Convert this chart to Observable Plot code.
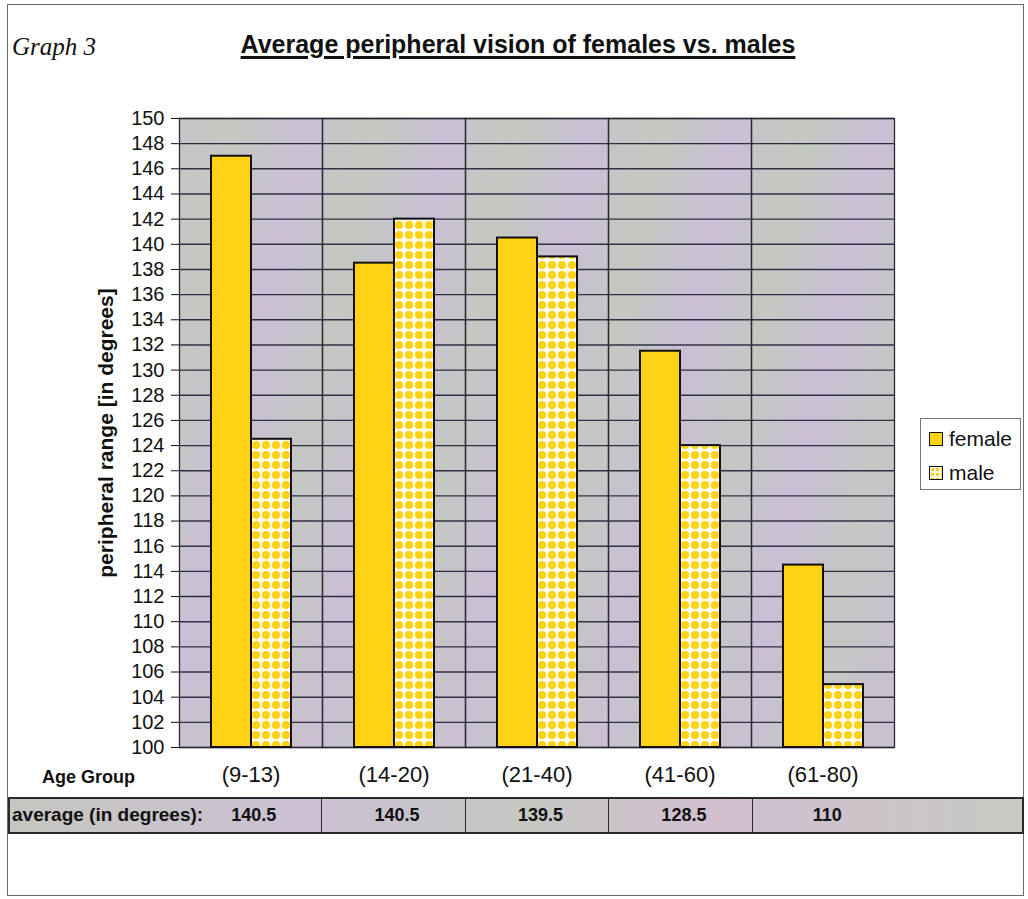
<!DOCTYPE html>
<html><head><meta charset="utf-8">
<script src="https://cdn.jsdelivr.net/npm/d3@7"></script>
<script src="https://cdn.jsdelivr.net/npm/@observablehq/plot@0.6"></script>
<style>
body{margin:0;background:#fff;font-family:"Liberation Sans",Arial,sans-serif;}
#wrap{position:relative;width:1028px;height:899px;overflow:hidden;}
#chart{position:absolute;left:0;top:0;}
#border{position:absolute;left:7px;top:4px;width:1015px;height:890px;border:1.5px solid #6a6a6a;}
#graph{position:absolute;left:12px;top:33px;font-family:"Liberation Serif","Times New Roman",serif;font-style:italic;font-size:25px;line-height:28px;color:#111;}
#title{position:absolute;left:0;width:1036px;text-align:center;top:30px;font-weight:bold;font-size:25px;line-height:28px;color:#111;text-decoration:underline;text-decoration-thickness:3px;text-underline-offset:3px;}
#legend{position:absolute;left:920px;top:418px;width:101px;height:72px;border:1px solid #777;background:#fff;box-sizing:border-box;}
.li{position:absolute;left:8px;font-size:21px;line-height:24px;color:#111;display:flex;align-items:center;}
.sw{width:12px;height:12px;border:1.5px solid #111;margin-right:6px;}
#table{position:absolute;left:8px;top:797px;width:1016px;height:37px;box-sizing:border-box;border:2px solid #2a2a2a;
 background:linear-gradient(90deg,#c6c6c0 0%,#cbc0d4 30%,#c4c8c2 50%,#d2bfd0 70%,#c7c9c3 100%);}
.sep{position:absolute;top:0;bottom:0;border-left:1.5px solid #2a2a2a;}
.tv{position:absolute;top:6px;font-weight:bold;font-size:18px;line-height:20px;color:#111;transform:translateX(-50%);}
#tlabel{position:absolute;left:2px;top:6px;font-weight:bold;font-size:19px;line-height:20px;color:#111;}
</style></head><body>
<div id="wrap">
 <div id="chart"></div>
 <div id="border"></div>
 <div id="graph">Graph 3</div>
 <div id="title">Average peripheral vision of females vs. males</div>
 <div id="legend"></div>
 <div id="table"></div>
</div>
<script>
const ageGroups = ["(9-13)", "(14-20)", "(21-40)", "(41-60)", "(61-80)"];
const series = ["female", "male"];
const femaleValues = [147, 138.5, 140.5, 131.5, 114.5];
const maleValues = [124.5, 142, 139, 124, 105];
const averageValues = ["140.5", "140.5", "139.5", "128.5", "110"];
const yTicks = d3.range(100, 151, 2);
const yLabel = "peripheral range [in degrees]";
const xLabel = "Age Group";
const tableLabel = "average (in degrees):";

const femaleColor = "#FFD313";

const data = [];
ageGroups.forEach((a, i) => {
  data.push({age: a, sex: "female", value: femaleValues[i]});
  data.push({age: a, sex: "male", value: maleValues[i]});
});

const W = 1028, H = 899, mL = 178, mR = 133, mT = 118, mB = 152;

const svg = Plot.plot({
  width: W, height: H,
  marginTop: mT, marginBottom: mB, marginLeft: mL, marginRight: mR,
  style: {fontFamily: '"Liberation Sans", Arial, sans-serif', background: "transparent", color: "#111"},
  fx: {domain: ageGroups, padding: 0, label: null},
  x: {domain: series, paddingInner: 0, paddingOuter: 0.75, axis: null},
  y: {domain: [100, 150], label: null},
  marks: [
    Plot.frame({fill: "url(#bgGrad)", stroke: "none"}),
    Plot.gridY(yTicks, {stroke: "#1f1f35", strokeOpacity: 0.9, strokeWidth: 1.4}),
    Plot.frame({stroke: "#2a2a35", strokeWidth: 1.3}),
    Plot.barY(data.filter(d => d.sex === "female"), {fx: "age", x: "sex", y1: 100, y2: "value", fill: femaleColor, stroke: "#111", strokeWidth: 2}),
    Plot.barY(data.filter(d => d.sex === "male"), {fx: "age", x: "sex", y1: 100, y2: "value", fill: "url(#dots)", stroke: "#111", strokeWidth: 2}),
    Plot.axisY(yTicks, {tickSize: 8, tickPadding: 7, fontSize: 20, label: null}),
    Plot.axisFx({anchor: "bottom", tickSize: 0, tickPadding: 19, fontSize: 22, label: null}),
    Plot.text([yLabel], {frameAnchor: "left", textAnchor: "middle", rotate: -90, dx: -73, fontSize: 21, fontWeight: "bold", facetAnchor: "left"}),
    Plot.text([xLabel], {frameAnchor: "bottom-left", textAnchor: "middle", dx: -91, dy: 35, fontSize: 18, fontWeight: "bold", facetAnchor: "left"})
  ]
});

const defs = d3.select(svg).insert("defs", ":first-child");
const g = defs.append("linearGradient").attr("id", "bgGrad").attr("x1", 0).attr("y1", 0).attr("x2", 1).attr("y2", 1);
[["0", "#c7c4c8"], ["0.2", "#c3c8c0"], ["0.45", "#cabfd6"], ["0.7", "#c4c7c3"], ["1", "#cbbfd3"]]
  .forEach(([o, c]) => g.append("stop").attr("offset", o).attr("stop-color", c));
const p = defs.append("pattern").attr("id", "dots").attr("width", 10).attr("height", 10).attr("patternUnits", "userSpaceOnUse");
p.append("rect").attr("width", 10).attr("height", 10).attr("fill", "#fffdf0");
p.append("circle").attr("cx", 5).attr("cy", 5).attr("r", 4.1).attr("fill", femaleColor);

document.getElementById("chart").appendChild(svg);

// legend
const legend = d3.select("#legend");
series.forEach((s, i) => {
  const item = legend.append("div").attr("class", "li").style("top", (8 + i * 34) + "px");
  const sw = item.append("div").attr("class", "sw");
  if (s === "female") sw.style("background", femaleColor);
  else sw.style("background", "radial-gradient(circle, " + femaleColor + " 45%, #fffdf0 50%)").style("background-size", "5px 5px");
  item.append("span").text(s);
});

// table row
const step = (W - mL - mR) / ageGroups.length;
const table = d3.select("#table");
table.append("div").attr("id", "tlabel").text(tableLabel);
averageValues.forEach((v, i) => {
  if (i > 0) table.append("div").attr("class", "sep").style("left", (mL + step * i - 8 - 2) + "px");
  table.append("div").attr("class", "tv").style("left", (mL + step * (i + 0.5) - 8 - 2 + 4) + "px").text(v);
});
</script>
</body></html>
